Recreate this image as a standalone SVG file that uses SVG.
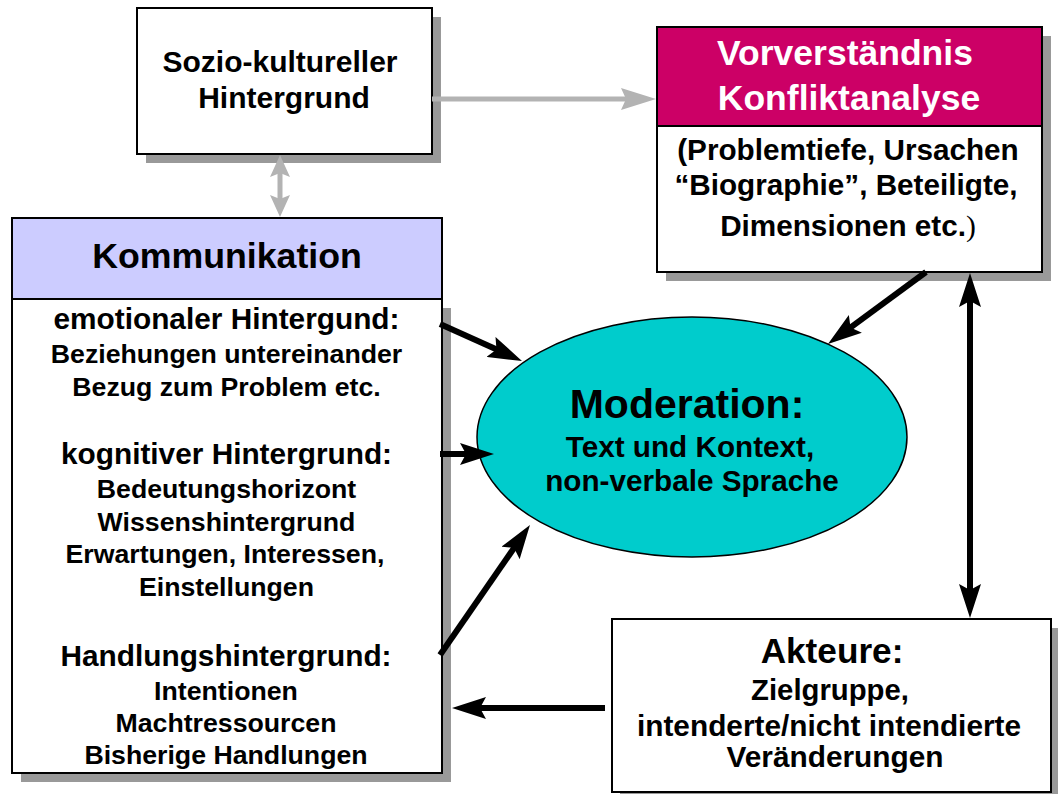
<svg xmlns="http://www.w3.org/2000/svg" width="1058" height="794" viewBox="0 0 1058 794">
  <style>
    text { font-family: "Liberation Sans", Arial, Helvetica, sans-serif; font-weight: bold; text-anchor: middle; fill: #000; }
    .box { fill: #fff; stroke: #000; stroke-width: 2; }
    .shadow { fill: #999; stroke: none; }
    .h30 { font-size: 29.8px; }
    .i27 { font-size: 26.7px; }
    .t30 { font-size: 29.7px; }
    .big { font-size: 35.5px; }
    .black { stroke: #000; stroke-width: 6; fill: none; }
    .gray { stroke: #b3b3b3; stroke-width: 5; fill: none; }
  </style>
  <defs>
    <marker id="ah" viewBox="0 0 34 22" markerUnits="userSpaceOnUse" markerWidth="34" markerHeight="22" refX="10" refY="11" orient="auto-start-reverse" preserveAspectRatio="none">
      <path d="M0,0 L34,11 L0,22 L6,11 z" fill="#000"/>
    </marker>
    <marker id="gh" viewBox="0 0 35 22" markerUnits="userSpaceOnUse" markerWidth="35" markerHeight="22" refX="10" refY="11" orient="auto-start-reverse" preserveAspectRatio="none">
      <path d="M0,0 L35,11 L0,22 L5,11 z" fill="#b3b3b3"/>
    </marker>
    <marker id="gh2" viewBox="0 0 22 20" markerUnits="userSpaceOnUse" markerWidth="22" markerHeight="20" refX="8" refY="10" orient="auto-start-reverse" preserveAspectRatio="none">
      <path d="M0,0 L22,10 L0,20 L4,10 z" fill="#b3b3b3"/>
    </marker>
  </defs>

  <g id="sozio">
    <rect class="shadow" x="146" y="17" width="295" height="146"/>
    <rect class="box" x="137" y="8" width="295" height="146"/>
    <text x="280" y="72" style="font-size:30px">Sozio-kultureller</text>
    <text x="284" y="108" style="font-size:30px">Hintergrund</text>
  </g>

  <g id="vorverstaendnis">
    <rect class="shadow" x="666" y="36" width="385" height="245"/>
    <rect class="box" x="657" y="27" width="385" height="245"/>
    <rect x="657" y="27" width="385" height="99" fill="#cc0066" stroke="#000" stroke-width="2"/>
    <text x="845" y="65" class="big" style="fill:#fff">Vorverständnis</text>
    <text x="849" y="110" class="big" style="fill:#fff">Konfliktanalyse</text>
    <text x="848" y="160" class="t30">(Problemtiefe, Ursachen</text>
    <text x="846" y="195" class="t30">“Biographie”, Beteiligte,</text>
    <text x="848" y="236" class="t30">Dimensionen etc.<tspan style="font-family:'Liberation Serif','Times New Roman',serif;font-weight:normal">)</tspan></text>
  </g>

  <g id="kommunikation">
    <rect class="shadow" x="21" y="308" width="430" height="474"/>
    <rect class="box" x="12" y="299" width="430" height="474"/>
    <rect x="12" y="218" width="430" height="81" fill="#ccccff" stroke="#000" stroke-width="2"/>
    <text x="227" y="268" style="font-size:35.7px">Kommunikation</text>
    <text x="226.5" y="329" class="h30">emotionaler Hintergund:</text>
    <text x="226.5" y="363" class="i27">Beziehungen untereinander</text>
    <text x="226.5" y="396" class="i27">Bezug zum Problem etc.</text>
    <text x="226.5" y="464" class="h30">kognitiver Hintergrund:</text>
    <text x="226.5" y="498" class="i27">Bedeutungshorizont</text>
    <text x="226.5" y="531" class="i27">Wissenshintergrund</text>
    <text x="225" y="563" class="i27">Erwartungen, Interessen,</text>
    <text x="226.5" y="596" class="i27">Einstellungen</text>
    <text x="226" y="666" class="h30">Handlungshintergrund:</text>
    <text x="226" y="700" class="i27">Intentionen</text>
    <text x="226" y="732" class="i27">Machtressourcen</text>
    <text x="226" y="764" class="i27">Bisherige Handlungen</text>
  </g>

  <g id="moderation">
    <ellipse cx="692" cy="437" rx="215" ry="120" fill="#00cccc" stroke="#000" stroke-width="1.5"/>
    <text x="687" y="418" style="font-size:41px">Moderation:</text>
    <text x="690" y="457" class="t30">Text und Kontext,</text>
    <text x="692" y="491" class="t30">non-verbale Sprache</text>
  </g>

  <g id="akteure">
    <rect class="shadow" x="620" y="628" width="438" height="173"/>
    <rect class="box" x="612" y="619" width="439" height="173"/>
    <text x="832" y="663" style="font-size:35.2px">Akteure:</text>
    <text x="830" y="700" style="font-size:29.3px">Zielgruppe,</text>
    <text x="829" y="736" style="font-size:29.8px">intenderte/nicht intendierte</text>
    <text x="835" y="767" style="font-size:29.8px">Veränderungen</text>
  </g>

  <g id="connectors">
    <line class="gray" x1="432" y1="99" x2="631" y2="99" marker-end="url(#gh)"/>
    <line class="gray" x1="280" y1="169" x2="280" y2="203" marker-start="url(#gh2)" marker-end="url(#gh2)"/>
    <line class="black" x1="440" y1="324" x2="500.1" y2="351.1" marker-end="url(#ah)"/>
    <line class="black" x1="440" y1="454" x2="470" y2="454" marker-end="url(#ah)"/>
    <line class="black" x1="440" y1="655" x2="516.3" y2="544.7" marker-end="url(#ah)"/>
    <line class="black" x1="926" y1="272" x2="847.3" y2="329.8" marker-end="url(#ah)"/>
    <line class="black" x1="970" y1="297" x2="970" y2="594" marker-start="url(#ah)" marker-end="url(#ah)"/>
    <line class="black" x1="605" y1="708" x2="476" y2="708" marker-end="url(#ah)"/>
  </g>
</svg>
